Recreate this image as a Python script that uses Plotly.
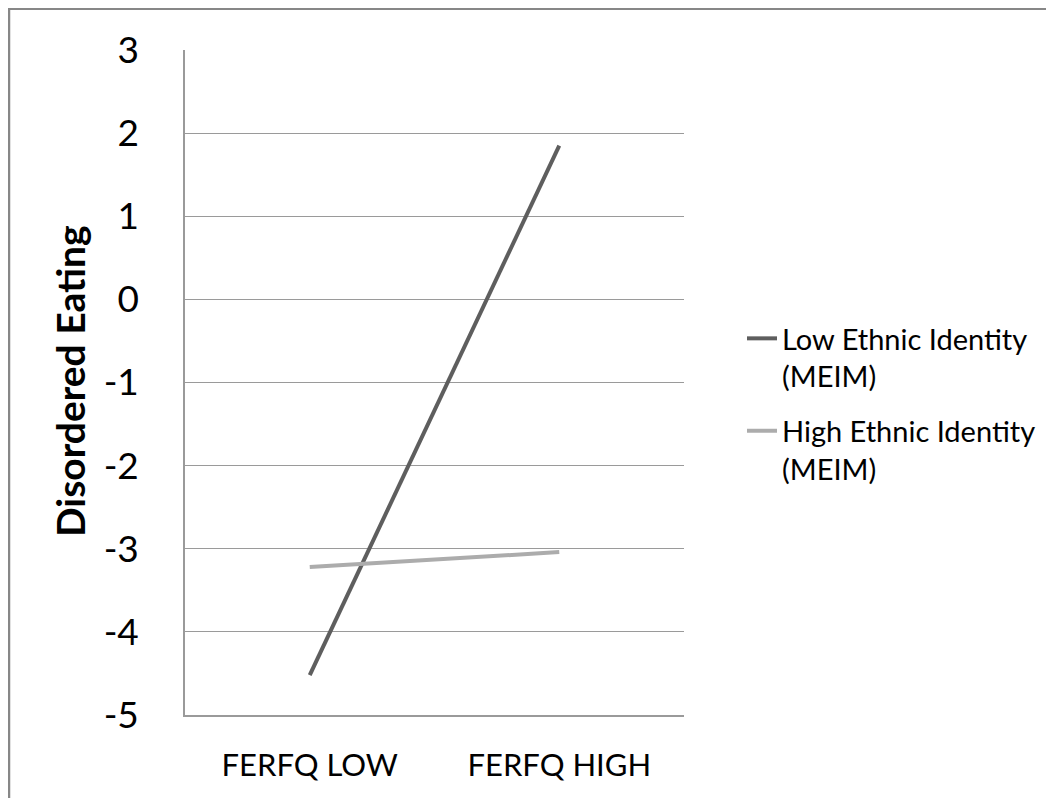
import plotly.graph_objects as go

categories = ["FERFQ LOW", "FERFQ HIGH"]
low_identity = [-4.52, 1.85]
high_identity = [-3.22, -3.04]
series_names = ["Low Ethnic Identity<br>(MEIM)", "High Ethnic Identity<br>(MEIM)"]
y_ticks = [3, 2, 1, 0, -1, -2, -3, -4, -5]
y_title = "Disordered Eating"

# page body has an 8px margin, so figure coords = reference px - 8
OFF = 8
W, H = 1046, 790
L, T = 185 - OFF, 50 - OFF
R = W - (684 - OFF)
B = H - (715 - OFF)
pw, ph = W - L - R, H - T - B

FONT = "Lato, 'Open Sans', sans-serif"

fig = go.Figure()
fig.add_trace(go.Scatter(x=categories, y=low_identity, mode="lines", name=series_names[0],
                         legendgroup="low",
                         line=dict(color="#5e5e5e", width=4)))
fig.add_trace(go.Scatter(x=categories, y=high_identity, mode="lines", name=series_names[1],
                         legendgroup="high",
                         line=dict(color="#acacac", width=4)))

def px_x(p):
    return (p - OFF - L) / pw

def px_y(p):
    return (H - B - (p - OFF)) / ph

fig.update_layout(
    width=W, height=H,
    margin=dict(l=L, r=R, t=T, b=B),
    paper_bgcolor="white", plot_bgcolor="white",
    font=dict(family=FONT, color="black"),
    showlegend=True,
    legend=dict(x=px_x(742), y=px_y(313), xanchor="left", yanchor="top",
                valign="top", font=dict(size=29, family=FONT, color="black"),
                tracegroupgap=14, bgcolor="rgba(0,0,0,0)"),
    xaxis=dict(type="category", categoryorder="array", categoryarray=categories,
               range=[-0.5, 1.5], showgrid=False, zeroline=False,
               showline=True, linecolor="#9a9a9a", linewidth=1.5,
               ticks="", tickfont=dict(size=31, family=FONT), ticklabelstandoff=22),
    yaxis=dict(range=[-5, 3], tickvals=y_ticks, ticktext=[str(v) for v in y_ticks],
               showgrid=True, gridcolor="#9a9a9a", gridwidth=1.2, zeroline=False,
               showline=True, linecolor="#9a9a9a", linewidth=1.5,
               ticks="", tickfont=dict(size=37, family=FONT), ticklabelstandoff=37),
    annotations=[dict(text="<b>" + y_title + "</b>", xref="paper", yref="paper",
                      x=px_x(70), y=px_y(381), xanchor="center", yanchor="middle",
                      textangle=-90, showarrow=False,
                      font=dict(size=39, family=FONT, color="black"))],
)

# chart frame (cropped border)
fig.add_shape(type="line", xref="paper", yref="paper",
              x0=px_x(8), x1=px_x(1100), y0=px_y(8.5), y1=px_y(8.5),
              line=dict(color="#878787", width=3))
fig.add_shape(type="line", xref="paper", yref="paper",
              x0=px_x(9), x1=px_x(9), y0=px_y(8), y1=px_y(850),
              line=dict(color="#878787", width=2.5))

fig.write_html("out.html")
